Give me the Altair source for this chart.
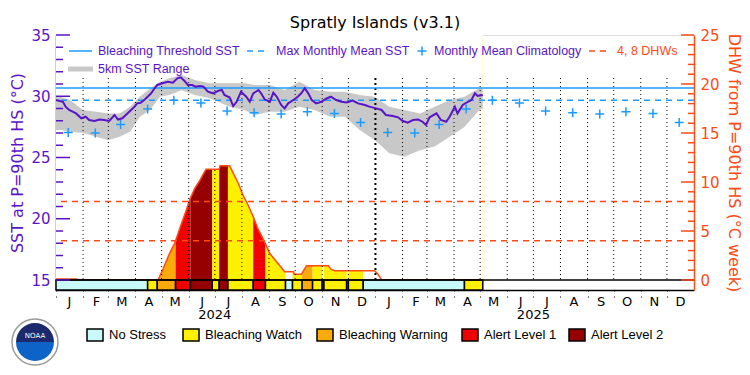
import altair as alt
import pandas as pd

# ---------------- data ----------------
START = pd.Timestamp("2024-01-01")

# daily SST (days since 2024-01-01, degC)
sst_day = [0, 8, 11, 15, 19, 23, 29, 34, 38, 44, 50, 55, 61, 67, 71, 76, 80, 86, 90, 93,
           97, 101, 105, 109, 113, 116, 122, 128, 134, 139, 143, 147, 151, 156, 160,
           165, 169, 174, 180, 186, 190, 193, 199, 203, 207, 212, 218, 222, 226, 232,
           235, 239, 245, 249, 253, 258, 262, 266, 272, 277, 281, 285, 289, 293, 298,
           304, 310, 315, 321,
           327, 333, 340, 346, 354, 359, 367, 373, 378, 386, 392, 397, 403, 409, 415,
           420, 424, 428, 436, 441, 447, 451, 457, 460, 466, 472, 476, 480, 483, 489]
sst_val = [29.7, 29.55, 29.15, 28.88, 28.74, 28.6, 28.2, 28.33, 28.06, 27.98, 28.1, 28.06,
           27.98, 28.47, 28.1, 28.2, 28.47, 28.88, 29.15, 29.42, 29.47, 29.69, 29.96, 30.24,
           30.65, 30.92, 31.06, 31.19, 31.1, 31.46, 31.55, 31.27, 30.92, 30.92, 30.78,
           30.84, 30.78, 30.37, 30.24, 30.45, 30.51, 30.1, 29.9, 29.2, 29.55, 30.37, 29.96,
           29.55, 30.24, 30.51, 30.24, 29.75, 29.55, 30.3, 29.96, 29.29, 29.01, 29.42, 29.69,
           29.96, 30.24, 30.65, 30.24, 29.69, 29.42, 29.55, 29.82, 29.96, 29.69,
           29.55, 29.5, 29.64, 29.42, 29.29, 29.15, 29.01, 28.88, 28.47, 28.39, 28.28, 28.0,
           27.84, 28.06, 28.1, 27.92, 27.65, 28.28, 28.6, 28.06, 27.92, 28.33, 29.15, 28.6,
           29.29, 29.55, 29.69, 30.24, 30.02, 30.1]

# 5km SST range
range_day = [0, 5, 16, 31, 46, 60, 73, 85, 96, 108, 119, 130, 144, 159, 176, 199, 216, 228,
             245, 262, 279, 296, 314, 331, 348, 365, 382, 399, 417, 434, 451, 468, 485, 489]
range_hi = [29.96, 29.96, 29.69, 28.88, 28.74, 28.6, 28.6, 29.15, 29.96, 30.65, 31.19, 31.46,
            31.73, 31.33, 31.06, 31.06, 31.06, 30.92, 30.92, 30.51, 31.19, 30.51, 30.37, 30.37,
            30.1, 29.96, 29.15, 28.88, 28.6, 29.15, 29.69, 29.96, 30.65, 30.65]
range_lo = [27.24, 27.24, 27.1, 27.0, 26.7, 26.4, 26.7, 27.1, 28.33, 28.88, 29.96, 30.1,
            30.5, 30.1, 29.83, 29.15, 28.88, 28.47, 28.74, 28.74, 29.15, 28.88, 28.33, 28.33,
            27.24, 26.43, 25.34, 25.07, 25.6, 25.9, 26.7, 27.5, 28.88, 29.0]

# monthly mean climatology (Jan..Dec)
clim_month = list(range(1, 13))
clim_val = [27.05, 27.0, 27.7, 28.95, 29.68, 29.44, 28.8, 28.65, 28.55, 28.74, 28.6, 27.85]
clim_years = [2024, 2025]

MMM = 29.68
THRESHOLD = 30.68

# degree heating weeks
dhw_day = [0, 24, 25, 117, 123, 130, 136, 142, 148, 153, 159, 165, 170, 172, 187, 188, 199,
           203, 209, 214, 220, 226, 231, 239, 245, 251, 256, 262, 272, 273, 281, 283, 287,
           312, 315, 319, 365, 369, 373, 489]
dhw_val = [0.1, 0.1, 0, 0, 1.2, 2.7, 3.75, 5.3, 6.8, 8.15, 9.35, 10.2, 11.0, 11.3, 11.3,
           11.65, 11.65, 10.9, 9.85, 8.7, 7.65, 6.45, 5.3, 3.9, 2.7, 2.05, 1.5, 0.85, 0.85,
           0.58, 0.58, 0.85, 1.46, 1.46, 1.1, 0.95, 0.95, 0.58, 0, 0]
DHW_LEVELS = [4, 8]

# bleaching alert status segments
seg_start = [0, 105, 116, 137, 154, 179, 187, 197, 226, 240, 263, 271, 282, 294, 305, 307,
             333, 335, 352, 468]
seg_end = [105, 116, 137, 154, 179, 187, 197, 226, 240, 263, 271, 282, 294, 305, 307, 333,
           335, 352, 468, 489]
seg_status = ["No Stress", "Bleaching Watch", "Bleaching Warning", "Alert Level 1",
              "Alert Level 2", "Bleaching Watch", "Alert Level 2", "Bleaching Watch",
              "Alert Level 1", "Bleaching Watch", "No Stress", "Bleaching Watch",
              "Bleaching Warning", "Bleaching Watch", "No Stress", "Bleaching Watch",
              "No Stress", "Bleaching Watch", "No Stress", "Bleaching Watch"]

STATUS = ["No Stress", "Bleaching Watch", "Bleaching Warning", "Alert Level 1", "Alert Level 2"]
STATUS_COLORS = ["#c8fafa", "#fff000", "#faaa0a", "#f00000", "#960000"]

YEARS = ["2024", "2025"]

# ---------------- styling / layout ----------------
PURPLE = "#5a14c8"
BLUE = "#1a9bff"
ORANGE = "#ff4a14"
GRAY = "#c8c8c8"
NUM_FONT = "DejaVu Sans"
TXT_FONT = "Liberation Sans"

PLOT_W, PLOT_H = 638, 255
BAR_PX = 10
SST_MIN = 15 - BAR_PX * 20.0 / (PLOT_H - BAR_PX)
DHW_MIN = 0 - BAR_PX * 25.0 / (PLOT_H - BAR_PX)


def to_dates(days):
    return [START + pd.Timedelta(days=int(d)) for d in days]


sst_df = pd.DataFrame({"date": to_dates(sst_day), "sst": sst_val})
range_df = pd.DataFrame({"date": to_dates(range_day), "lo": range_lo, "hi": range_hi})
clim_df = pd.DataFrame([
    {"date": pd.Timestamp(year=y, month=m, day=15), "clim": v}
    for y in clim_years for m, v in zip(clim_month, clim_val)
])
dhw_df = pd.DataFrame({"date": to_dates(dhw_day), "dhw": dhw_val})
seg_df = pd.DataFrame({"start": to_dates(seg_start), "end": to_dates(seg_end), "status": seg_status})
month_starts = pd.date_range("2024-01-01", "2025-12-01", freq="MS")
grid_df = pd.DataFrame({"date": [d for d in month_starts if d.month != 1]})
grid_year_df = pd.DataFrame({"date": [pd.Timestamp("2025-01-01")]})
year_df = pd.DataFrame({"date": [pd.Timestamp(year=int(y), month=7, day=1) for y in YEARS], "label": YEARS})

X_SCALE = alt.Scale(domain=[alt.DateTime(year=2024, month=1, date=1),
                            alt.DateTime(year=2026, month=1, date=1)])
SST_SCALE = alt.Scale(domain=[SST_MIN, 35], nice=False, zero=False)
DHW_SCALE = alt.Scale(domain=[DHW_MIN, 25], nice=False, zero=False)
STATUS_SCALE = alt.Scale(domain=STATUS, range=STATUS_COLORS)

X_AXIS = alt.Axis(
    values=[alt.DateTime(year=d.year, month=d.month, date=1) for d in month_starts],
    labelExpr="slice(timeFormat(datum.value, '%b'), 0, 1)",
    labelOffset=13, labelFlush=False, labelOverlap=False, labelBound=False,
    tickSize=7, tickDash=[1, 5], tickColor="black", tickWidth=1,
    domainColor="black", domainWidth=1.5,
    labelColor="black", labelFont=NUM_FONT, labelFontSize=13, labelPadding=-2,
    title=None, grid=False)

SST_AXIS = alt.Axis(
    orient="left", values=[15, 20, 25, 30, 35], ticks=False, grid=False,
    domainColor=PURPLE, domainWidth=1.5,
    labelColor=PURPLE, labelFont=NUM_FONT, labelFontSize=15, labelPadding=6,
    title="SST at P=90th HS (°C)", titleColor=PURPLE, titleFont=NUM_FONT,
    titleFontSize=16, titleFontWeight="normal", titleAngle=270,
    titleX=-39, titleY=PLOT_H / 2, titleAlign="center", titleBaseline="middle")

DHW_AXIS = alt.Axis(
    orient="right", values=[0, 5, 10, 15, 20, 25], ticks=False, grid=False,
    domainColor=ORANGE, domainWidth=1.5,
    labelColor=ORANGE, labelFont=NUM_FONT, labelFontSize=15, labelPadding=6,
    title="DHW from P=90th HS (°C week)", titleColor=ORANGE, titleFont=NUM_FONT,
    titleFontSize=16, titleFontWeight="normal", titleAngle=90,
    titleX=39, titleY=PLOT_H / 2, titleAlign="center", titleBaseline="middle")


def xenc(field="date"):
    return alt.X(f"{field}:T", scale=X_SCALE, axis=X_AXIS)


def ysst(field):
    return alt.Y(f"{field}:Q", scale=SST_SCALE, axis=SST_AXIS)


def ydhw(field):
    return alt.Y(f"{field}:Q", scale=DHW_SCALE, axis=DHW_AXIS)


# ---------------- DHW group ----------------
fill = alt.Chart(seg_df).transform_filter("datum.status != 'No Stress'").transform_calculate(
    b0="0", b1="25").mark_rect().encode(
    x=xenc("start"), x2=alt.X2("end"),
    y=ydhw("b0"), y2=alt.Y2("b1"),
    color=alt.Color("status:N", scale=STATUS_SCALE, legend=None))

mask = alt.Chart(dhw_df).transform_calculate(top="25").mark_area(color="white", opacity=1).encode(
    x=xenc(), y=ydhw("dhw"), y2=alt.Y2("top"))

dhw_rules = alt.Chart(pd.DataFrame({"level": DHW_LEVELS})).mark_rule(
    color=ORANGE, strokeDash=[6, 5], strokeWidth=1.5).encode(y=ydhw("level"))

dhw_line = alt.Chart(dhw_df).mark_line(color=ORANGE, strokeWidth=1.5).encode(
    x=xenc(), y=ydhw("dhw"))

bar = alt.Chart(seg_df).transform_calculate(b0="0", b1=str(DHW_MIN)).mark_rect(
    stroke="black", strokeWidth=1.5).encode(
    x=xenc("start"), x2=alt.X2("end"),
    y=ydhw("b0"), y2=alt.Y2("b1"),
    color=alt.Color("status:N", scale=STATUS_SCALE, legend=None))

zero_rule = alt.Chart(pd.DataFrame({"level": [0]})).mark_rule(color="black", strokeWidth=1.5).encode(
    y=ydhw("level"))

rt_df = pd.DataFrame({"v": list(range(0, 26))})
rticks_minor = alt.Chart(rt_df).transform_filter("datum.v % 5 != 0").mark_rule(
    color=ORANGE, strokeWidth=1.5).encode(
    x=alt.value(PLOT_W), x2=alt.value(PLOT_W - 6), y=ydhw("v"))
rticks_major = alt.Chart(rt_df).transform_filter("datum.v % 5 == 0").mark_rule(
    color=ORANGE, strokeWidth=1.5).encode(
    x=alt.value(PLOT_W), x2=alt.value(PLOT_W - 13), y=ydhw("v"))

dhw_group = alt.layer(fill, mask, dhw_rules, dhw_line, bar, zero_rule, rticks_minor, rticks_major)

# ---------------- SST group ----------------
band = alt.Chart(range_df).mark_area(color=GRAY, opacity=1).encode(
    x=xenc(), y=ysst("lo"), y2=alt.Y2("hi"))

grid = alt.Chart(grid_df).mark_rule(color="black", strokeDash=[1, 3], strokeWidth=1).encode(
    x=xenc(), y=alt.value(43), y2=alt.value(PLOT_H - BAR_PX))
grid_year = alt.Chart(grid_year_df).mark_rule(color="black", strokeDash=[2, 3], strokeWidth=2).encode(
    x=xenc(), y=alt.value(43), y2=alt.value(PLOT_H - BAR_PX))

thr = alt.Chart(pd.DataFrame({"v": [THRESHOLD]})).mark_rule(color=BLUE, strokeWidth=1.5).encode(
    y=ysst("v"))
mmm = alt.Chart(pd.DataFrame({"v": [MMM]})).mark_rule(color=BLUE, strokeWidth=1.5, strokeDash=[6, 5]).encode(
    y=ysst("v"))

sst_line = alt.Chart(sst_df).mark_line(color=PURPLE, strokeWidth=2).encode(
    x=xenc(), y=ysst("sst"))

PLUS = "M -1 0 L 1 0 M 0 -1 L 0 1"
clim_pts = alt.Chart(clim_df).mark_point(shape=PLUS, filled=False, color=BLUE, strokeWidth=1.5, size=81, opacity=1).encode(
    x=xenc(), y=ysst("clim"))

lt_df = pd.DataFrame({"v": list(range(15, 36))})
lticks_minor = alt.Chart(lt_df).transform_filter("datum.v % 5 != 0").mark_rule(
    color=PURPLE, strokeWidth=1.5).encode(
    x=alt.value(0), x2=alt.value(7), y=ysst("v"))
lticks_major = alt.Chart(lt_df).transform_filter("datum.v % 5 == 0").mark_rule(
    color=PURPLE, strokeWidth=1.5).encode(
    x=alt.value(0), x2=alt.value(14), y=ysst("v"))

sst_group = alt.layer(band, grid, grid_year, thr, mmm, sst_line, clim_pts, lticks_minor, lticks_major)

# ---------------- decorations ----------------
ONE = alt.Data(values=[{"k": 0}])


def vtext(txt, x, y, color="black", size=12.5, font=TXT_FONT, align="left"):
    return alt.Chart(ONE).mark_text(text=txt, align=align, baseline="middle", color=color,
                                    fontSize=size, font=font).encode(x=alt.value(x), y=alt.value(y))


def vline(x1, x2, y, color, width=1.5, dash=None):
    kw = dict(color=color, strokeWidth=width)
    if dash:
        kw["strokeDash"] = dash
    return alt.Chart(ONE).mark_rule(**kw).encode(x=alt.value(x1), x2=alt.value(x2), y=alt.value(y))


decos = [
    vtext("Spratly Islands (v3.1)", PLOT_W / 2, -12, size=16, font=NUM_FONT, align="center"),
    vline(13, 36, 16, BLUE),
    vtext("Bleaching Threshold SST", 42, 16, PURPLE),
    vline(191, 212, 16, BLUE, dash=[6, 5]),
    vtext("Max Monthly Mean SST", 220, 16, PURPLE),
    alt.Chart(ONE).mark_point(shape=PLUS, filled=False, color=BLUE, strokeWidth=1.5, size=81, opacity=1).encode(
        x=alt.value(366), y=alt.value(16)),
    vtext("Monthly Mean Climatology", 378, 16, PURPLE),
    vline(533, 552, 16, ORANGE, dash=[6, 5]),
    vtext("4, 8 DHWs", 561, 16, ORANGE),
    vline(12, 37, 34, GRAY, width=5),
    vtext("5km SST Range", 42, 34, PURPLE),
    alt.Chart(year_df).mark_text(baseline="middle", align="center", fontSize=13, font=NUM_FONT, color="black").encode(
        x=xenc(), y=alt.value(280), text="label:N"),
]

box_x = [31, 127, 261, 406, 513]
for sx, st, col in zip(box_x, STATUS, STATUS_COLORS):
    decos.append(alt.Chart(ONE).mark_rect(fill=col, stroke="black", strokeWidth=1.5).encode(
        x=alt.value(sx), x2=alt.value(sx + 16), y=alt.value(294), y2=alt.value(306)))
    decos.append(vtext(st, sx + 22, 300, "black", size=13))

# NOAA-like emblem
LOGO_X, LOGO_Y = -21, 307
decos += [
    alt.Chart(ONE).mark_point(shape="circle", filled=True, fill="white", stroke="#9a9a9a",
                              strokeWidth=1.5, size=2116, opacity=1).encode(
        x=alt.value(LOGO_X), y=alt.value(LOGO_Y)),
    alt.Chart(ONE).mark_arc(radius=19, theta=4.712, theta2=7.854, color="#1a2a6c").encode(
        x=alt.value(LOGO_X), y=alt.value(LOGO_Y)),
    alt.Chart(ONE).mark_arc(radius=19, theta=1.571, theta2=4.712, color="#0d63c7").encode(
        x=alt.value(LOGO_X), y=alt.value(LOGO_Y)),
    vtext("NOAA", LOGO_X, LOGO_Y - 6, "white", size=7, font=NUM_FONT, align="center"),
]

chart = alt.layer(dhw_group, sst_group, *decos).resolve_scale(y="independent").properties(
    width=PLOT_W, height=PLOT_H,
    autosize=alt.AutoSizeParams(type="none"),
    padding={"left": 56, "top": 35, "right": 56, "bottom": 85},
).configure_view(stroke="black", strokeWidth=1.5).configure(font=NUM_FONT)

chart.save("out.html", embed_options={"renderer": "svg", "actions": False})
